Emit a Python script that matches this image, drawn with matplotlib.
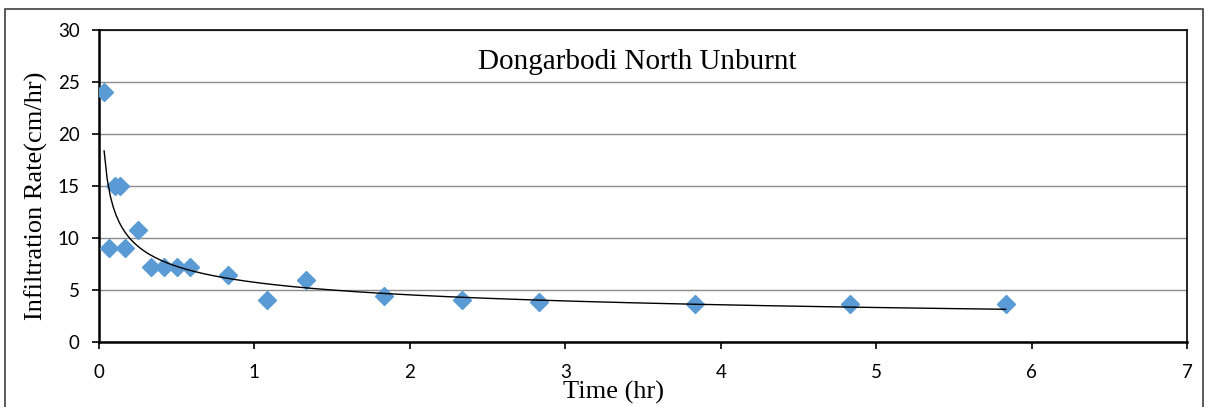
import numpy as np
import matplotlib.pyplot as plt
from matplotlib.patches import Rectangle

# Infiltration test readings (time in hours, rate in cm/hr)
time_hr = [0.033, 0.067, 0.1, 0.133, 0.167, 0.25, 0.333, 0.417, 0.5, 0.583,
           0.833, 1.083, 1.333, 1.833, 2.333, 2.833, 3.833, 4.833, 5.833]
rate_cmhr = [24.0, 9.0, 15.0, 15.0, 9.0, 10.8, 7.2, 7.2, 7.2, 7.2,
             6.4, 4.0, 6.0, 4.4, 4.0, 3.8, 3.7, 3.7, 3.7]

x_ticks = [0, 1, 2, 3, 4, 5, 6, 7]
y_ticks = [0, 5, 10, 15, 20, 25, 30]

# Power trend line y = a*x^b, fitted in log-log space
b, loga = np.polyfit(np.log(time_hr), np.log(rate_cmhr), 1)
xfit = np.linspace(min(time_hr), max(time_hr), 300)
yfit = np.exp(loga) * xfit**b

fig = plt.figure(figsize=(12.08, 4.07), dpi=100)
ax = fig.add_axes([99/1208, 1 - 342/407, (1187-99)/1208, (342-30)/407])

ax.plot(time_hr, rate_cmhr, linestyle="none", marker="D", markersize=9,
        color="#5B9BD5", zorder=3)
ax.plot(xfit, yfit, color="black", linewidth=1.0, zorder=4)

ax.set_xlim(0, 7)
ax.set_ylim(0, 30)
ax.set_xticks(x_ticks)
ax.set_yticks(y_ticks)
ax.yaxis.grid(True, color="#8c8c8c", linewidth=1.0)
ax.set_axisbelow(True)

tickfont = {"family": "Lato", "size": 13.5}
ax.set_xticklabels([str(v) for v in x_ticks], **tickfont)
ax.set_yticklabels([str(v) for v in y_ticks], **tickfont)
ax.tick_params(axis="x", direction="out", length=5, width=1.2, pad=11)
ax.tick_params(axis="y", direction="out", length=5, width=1.2, pad=9)

for side in ["left", "bottom"]:
    ax.spines[side].set_linewidth(1.8)
for side in ["top", "right"]:
    ax.spines[side].set_linewidth(1.2)

serif = "Liberation Serif"
ax.set_xlabel("Time (hr)", family=serif, fontsize=19)
ax.xaxis.set_label_coords(0.473, -0.125)
ax.set_ylabel("Infiltration Rate(cm/hr)", family=serif, fontsize=19)
ax.yaxis.set_label_coords(-0.047, 0.47)
ax.text(0.495, 0.897, "Dongarbodi North Unburnt", transform=ax.transAxes,
        ha="center", va="center", family=serif, fontsize=21)

# chart area border
fig.patches.append(Rectangle((5/1208, -0.05), 1198/1208, 1 - 9/407 + 0.05,
                             transform=fig.transFigure, fill=False,
                             edgecolor="#404040", linewidth=1.2))

fig.savefig("out.png", dpi=100)
